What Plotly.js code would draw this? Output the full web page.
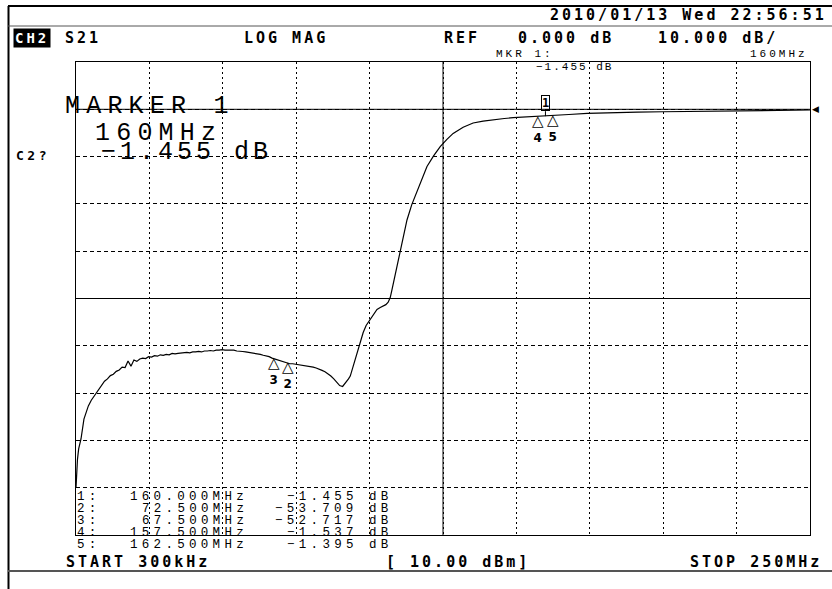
<!DOCTYPE html>
<html><head><meta charset="utf-8">
<script src="https://cdn.plot.ly/plotly-3.0.1.min.js"></script>
<style>html,body{margin:0;padding:0;background:#fff;}#chart{width:832px;height:589px;}</style>
</head><body><div id="chart"></div>
<script>
// ---- data ----
const freqMHz = [0.3,0.5,0.8,1.2,2,3,4.5,5.5,7,8.6,
 10,11,12,13,14,15,16,17,18,19,20,21,22,23,24,25,26,27,28,29,30,31,32,33,34,35,36,37,38,39,40,
 41,42,43,44,45,46,47,48,49,50,51,52,53,54,55,56,57,58,59,60,61,62,63,64,65,66,67,68,69,70,
 71,72,73,74,75,76,77,78,79,80,81,82,83,84,85,86,87,88,89,90,91,92,
 93,93.6,95,95.9,97,98,99,100.4,101.5,102.7,103.8,104.8,105.7,106.5,107.2,107.8,108.6,109.5,110.3,111.2,
 112,112.9,114.5,116.3,118,119.7,122,124.2,126.4,128.6,132,135.4,138.8,142.2,146,149,153,157.5,160,162.5,
 168,174.2,182,191.2,200,212.6,222,232,240,250];
const s21dB = [-80,-77,-74,-71.8,-69.7,-65.5,-62.7,-61.5,-60.2,-58.7,
 -57.5,-57.0,-56.3,-56.0,-55.4,-55.1,-54.5,-54.6,-53.2,-54.3,-53.0,-53.3,-52.8,-52.6,-52.7,-52.3,-52.4,-52.1,-52.2,-51.9,-52.0,
 -51.8,-51.9,-51.6,-51.7,-51.6,-51.5,-51.5,-51.4,-51.5,-51.3,
 -51.3,-51.2,-51.3,-51.1,-51.1,-51.0,-51.1,-50.9,-50.9,-50.8,-50.9,-50.9,-51.0,-50.9,-51.1,-51.1,-51.2,-51.3,-51.4,-51.4,
 -51.6,-51.7,-51.8,-52.0,-52.1,-52.3,-52.6,-52.8,-53.0,-53.2,
 -53.4,-53.6,-53.8,-53.8,-53.9,-54.0,-54.1,-54.2,-54.2,-54.4,-54.5,-54.7,-54.9,-55.2,-55.5,-55.9,-56.4,-57.0,-57.7,-58.4,-58.6,-57.9,
 -57.0,-56.4,-53.5,-51.4,-49.2,-47.2,-45.7,-44.4,-43.2,-42.3,-41.9,-41.6,-41.3,-40.8,-39.8,-38.1,-35.8,-33.2,-30.4,-27.6,
 -25.4,-23.4,-20.2,-17.3,-14.5,-12.1,-9.8,-7.9,-6.4,-5.1,-3.8,-2.9,-2.5,-2.2,-1.95,-1.78,-1.65,-1.537,-1.455,-1.395,
 -1.1,-0.85,-0.7,-0.6,-0.52,-0.45,-0.38,-0.32,-0.22,-0.15];
const markerNo = [1,2,3,4,5];
const markerFreqMHz = [160, 72.5, 67.5, 157.5, 162.5];
const markerDB = [-1.455, -53.709, -52.717, -1.537, -1.395];
const startMHz = 0.3, stopMHz = 250, refDB = 0, scaleDB = 10;

// ---- layout helpers ----
const W=832,H=589,L=76,R=22,T=62,B=54,PW=W-L-R,PH=H-T-B;
const px = x => (x-L)/PW, py = y => (H-B-y)/PH;
const BOLD = 'DejaVu Sans Mono', THIN = 'Liberation Mono';
const ls = (t,s) => `<span style="letter-spacing:${s}px">${t}</span>`;
function txt(x,y,text,o){
  o=o||{};
  return {xref:'paper',yref:'paper',x:px(x),y:py(y),xanchor:o.anchor||'left',yanchor:'middle',
    text:text,showarrow:false,borderpad:o.pad||0,bgcolor:o.bg||'rgba(0,0,0,0)',
    font:{family:o.family||BOLD,size:o.size||15,color:o.color||'black',weight:o.weight||'bold'}};
}
const minus = v => v.toFixed(3).replace('-','\u2212');

const ann = [];
// header / footer
ann.push(txt(828,15,ls('2010/01/13 Wed 22:56:51',3.0),{anchor:'right'}));
ann.push(txt(13,38,ls('CH2',3),{bg:'black',color:'white',size:14,pad:1}));
ann.push(txt(64,38,ls('S21',3.0)));
ann.push(txt(243,38,ls('LOG MAG',3.0)));
ann.push(txt(443,38,ls('REF',3.0)));
ann.push(txt(517,38,ls(refDB.toFixed(3)+' dB',3.0)));
ann.push(txt(657,38,ls(scaleDB.toFixed(3)+' dB/',3.0)));
ann.push(txt(65,562,ls('START 300kHz',3.0)));
ann.push(txt(385,562,ls('[ 10.00 dBm]',3.0)));
ann.push(txt(823,562,ls('STOP 250MHz',3.0),{anchor:'right'}));
ann.push(txt(15,155,ls('C2?',3.5),{size:13}));
// small marker readout
ann.push(txt(495,54.5,ls('MKR 1:',3),{family:THIN,size:11,weight:'normal'}));
ann.push(txt(809,54.5,ls(markerFreqMHz[0]+'MHz',3),{family:THIN,size:11,anchor:'right',weight:'normal'}));
ann.push(txt(535,66.5,ls(minus(markerDB[0])+' dB',2),{family:THIN,size:11,weight:'normal'}));
// big marker readout
ann.push(txt(64,107,ls('MARKER '+markerNo[0],6.2),{family:THIN,size:25,weight:'normal'}));
ann.push(txt(94,133,ls(markerFreqMHz[0]+'MHz',6.2),{family:THIN,size:25,weight:'normal'}));
ann.push(txt(100,152,ls(minus(markerDB[0])+' dB',4),{family:THIN,size:25,weight:'normal'}));
// marker table
for(let i=0;i<markerNo.length;i++){
  const y=497+11.9*i;
  const o={family:THIN,size:12.5,weight:'normal'};
  ann.push(txt(76,y,ls(markerNo[i]+':',4.3),o));
  ann.push(txt(249,y,ls(markerFreqMHz[i].toFixed(3)+'MHz',4.3),Object.assign({anchor:'right'},o)));
  ann.push(txt(359,y,ls(minus(markerDB[i]),4.3),Object.assign({anchor:'right'},o)));
  ann.push(txt(368,y,ls('dB',4.3),o));
}
// markers on the trace
for(let i=0;i<markerNo.length;i++){
  if(i===0){
    ann.push({x:markerFreqMHz[i],y:markerDB[i],xref:'x',yref:'y',text:'<b>'+markerNo[i]+'</b>',
      showarrow:true,arrowhead:0,arrowwidth:1,arrowcolor:'black',ax:0,ay:-5,standoff:0,
      yanchor:'bottom',bordercolor:'black',borderwidth:1,borderpad:0,
      font:{family:BOLD,size:12,color:'black'}});
  } else {
    ann.push({x:markerFreqMHz[i],y:markerDB[i],xref:'x',yref:'y',
      text:'<span style="font-size:15px">△</span><br><b>'+markerNo[i]+'</b>',showarrow:false,
      yanchor:'top',yshift:7,font:{family:'DejaVu Sans',size:12,color:'black'}});
  }
}
// reference level pointer
ann.push({x:stopMHz,y:refDB,xref:'x',yref:'y',text:'◀',showarrow:false,xanchor:'left',
  font:{family:'DejaVu Sans',size:9,color:'black'}});

const line = (x0,y0,x1,y1,w,c) => ({type:'line',xref:'paper',yref:'paper',x0:px(x0),y0:py(y0),x1:px(x1),y1:py(y1),
  line:{color:c||'black',width:w||1}});
const shapes = [
  line(8.5,6,8.5,589,2), line(8,6,832,6,2), line(8,26,832,26,1,'#555'), line(8,571,832,571,2,'#555'),
  {type:'line',xref:'x',yref:'paper',x0:(startMHz+stopMHz)/2,x1:(startMHz+stopMHz)/2,y0:0,y1:1,line:{color:'black',width:1}},
  {type:'line',xref:'paper',yref:'y',x0:0,x1:1,y0:-40,y1:-40,line:{color:'black',width:1}},
  {type:'line',xref:'paper',yref:'y',x0:0,x1:1,y0:refDB,y1:refDB,line:{color:'black',width:1}}
];

const trace = {x:freqMHz,y:s21dB,type:'scatter',mode:'lines',line:{color:'black',width:1.2},hoverinfo:'skip'};

const layout = {
  width:W,height:H,margin:{l:L,r:R,t:T,b:B,pad:0},
  paper_bgcolor:'white',plot_bgcolor:'white',showlegend:false,
  xaxis:{range:[startMHz,stopMHz],tick0:startMHz,dtick:(stopMHz-startMHz)/10,showticklabels:false,ticks:'',
    showgrid:true,gridcolor:'black',gridwidth:1,griddash:'2px,3px',zeroline:false,
    showline:true,mirror:true,linecolor:'black',linewidth:1,fixedrange:true},
  yaxis:{range:[-90,10],tick0:0,dtick:scaleDB,showticklabels:false,ticks:'',
    showgrid:true,gridcolor:'black',gridwidth:1,griddash:'4px,3px',zeroline:false,
    showline:true,mirror:true,linecolor:'black',linewidth:1,fixedrange:true},
  shapes:shapes,annotations:ann
};
Plotly.newPlot('chart',[trace],layout,{staticPlot:true,displayModeBar:false});
</script></body></html>
